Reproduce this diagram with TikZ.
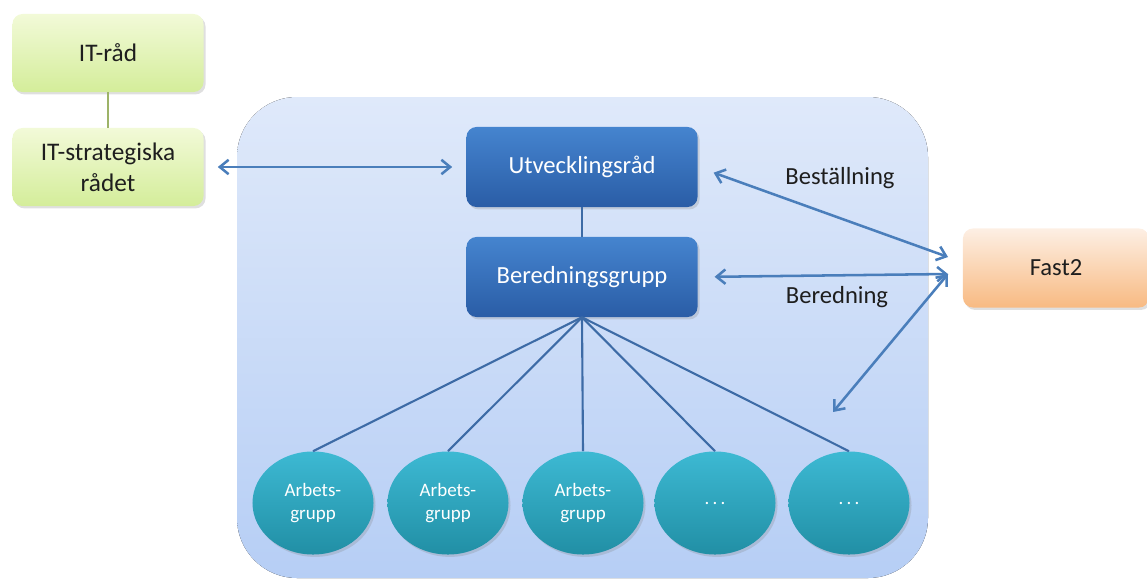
\documentclass[tikz,border=0pt]{standalone}
\usepackage{fontspec}
\setmainfont{Carlito}
\usepackage{xcolor}
\usetikzlibrary{positioning}
\usetikzlibrary{arrows.meta}
\usetikzlibrary{shapes.geometric}
\usetikzlibrary{shadows}
\definecolor{greentop}{HTML}{F2FAD8}
\definecolor{greenbot}{HTML}{D4ED9A}
\definecolor{bluetop}{HTML}{4584CF}
\definecolor{bluebot}{HTML}{2A5DA6}
\definecolor{orangetop}{HTML}{FDEFE4}
\definecolor{orangebot}{HTML}{F8BA82}
\definecolor{tealtop}{HTML}{3DB9D3}
\definecolor{tealbot}{HTML}{218FA5}
\definecolor{bgtop}{HTML}{DFE9FA}
\definecolor{bgbot}{HTML}{B6CEF5}
\definecolor{arrowblue}{HTML}{4A7EBB}
\definecolor{treeblue}{HTML}{3D6BA6}
\definecolor{olive}{HTML}{9DB368}
\definecolor{textdark}{HTML}{1E1E1E}

\begin{document}
\begin{tikzpicture}[x=0.025cm, y=-0.025cm,
    softshadow/.style={drop shadow={shadow xshift=0.05cm, shadow yshift=-0.06cm, opacity=0.25}},
    greenbox/.style={rectangle, rounded corners=0.25cm, minimum width=4.775cm, minimum height=1.95cm,
      top color=greentop, bottom color=greenbot, align=center, text=textdark,
      font=\fontsize{18}{22}\selectfont, softshadow},
    bluebox/.style={rectangle, rounded corners=0.25cm, minimum width=5.775cm, minimum height=2cm,
      top color=bluetop, bottom color=bluebot, text=white, font=\fontsize{17.5}{21}\selectfont, softshadow},
    fastbox/.style={rectangle, rounded corners=0.25cm, minimum width=4.65cm, minimum height=1.975cm,
      top color=orangetop, bottom color=orangebot, text=textdark, font=\fontsize{17.5}{21}\selectfont, softshadow},
    grpbubble/.style={ellipse, inner sep=0pt, minimum width=3.025cm, minimum height=2.575cm,
      top color=tealtop, bottom color=tealbot, text=white, align=center,
      font=\fontsize{13.5}{17}\selectfont, softshadow},
    lbl/.style={text=textdark, font=\fontsize{17.5}{21}\selectfont},
    link/.style={arrowblue, line width=1.8pt, {Straight Barb[length=2.2mm,width=3.6mm]}-{Straight Barb[length=2.2mm,width=3.6mm]}},
    tree/.style={treeblue, line width=1.5pt}]
\useasboundingbox (0,0) rectangle (1147,580);
% background panel
\fill[top color=bgtop, bottom color=bgbot, rounded corners=1.5cm] (237,97) rectangle (928,578);
% left column
\node[greenbox] (itrad) at (108,53) {IT-råd};
\node[greenbox] (itstrat) at (108,167) {IT-strategiska\\rådet};
\draw[olive, line width=1.8pt] (itrad.south) -- (itstrat.north);
% main boxes
\node[bluebox] (utv) at (582,167) {Utvecklingsråd};
\node[bluebox] (bered) at (582,277) {Beredningsgrupp};
\draw[tree] (utv.south) -- (bered.north);
\node[fastbox] (fast) at (1056,268) {Fast2};
% work groups
\foreach \x/\t [count=\i] in {313/{Arbets-\\grupp}, 448/{Arbets-\\grupp}, 583/{Arbets-\\grupp}, 715/{.\,.\,.}, 849/{.\,.\,.}}{
  \node[grpbubble] (grp\i) at (\x,503) {\t};
  \draw[tree] (bered.south) -- (grp\i.north);
}
% arrows
\coordinate (bestin) at (948,257);
\coordinate (beredin) at (948,274);
\coordinate (grppil) at (833,412);
\draw[link, shorten <=0.35cm, shorten >=0.35cm] (itstrat.east) -- (utv.west);
\draw[link, shorten <=0.42cm] (utv.east) -- (bestin);
\draw[link, shorten <=0.42cm] (bered.east) -- (beredin);
\draw[link] (beredin) -- (grppil);
\node[lbl] (bestlbl) at (840,178) {Beställning};
\node[lbl] (beredlbl) at (837,297) {Beredning};
\end{tikzpicture}
\end{document}
